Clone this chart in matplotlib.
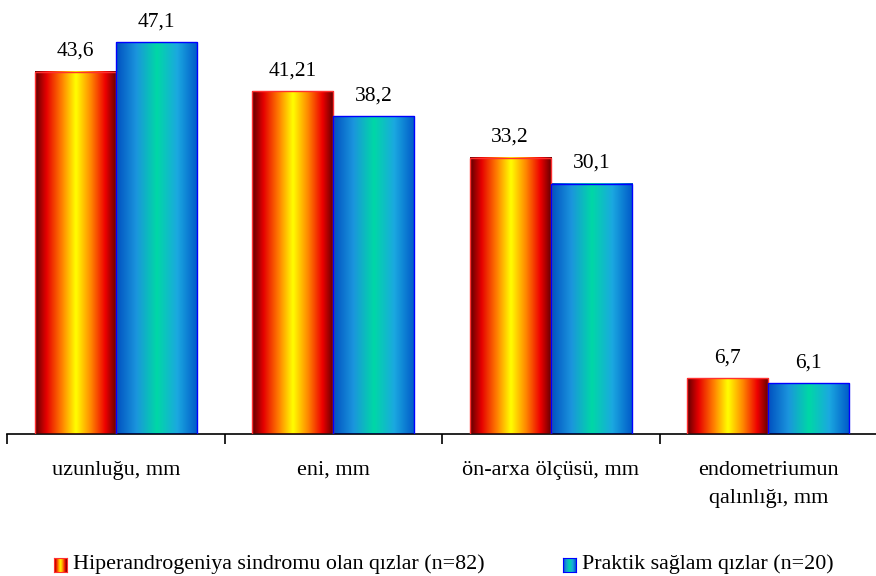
import matplotlib
matplotlib.use('Agg')

import numpy as np
import matplotlib.pyplot as plt
from matplotlib.colors import LinearSegmentedColormap

categories = ['uzunluğu, mm', 'eni, mm', 'ön-arxa ölçüsü, mm', 'endometriumun\nqalınlığı, mm']
hiper = [43.6, 41.21, 33.2, 6.7]
praktik = [47.1, 38.2, 30.1, 6.1]
hiper_labels = ['43,6', '41,21', '33,2', '6,7']
praktik_labels = ['47,1', '38,2', '30,1', '6,1']
series_names = ['Hiperandrogeniya sindromu olan qızlar (n=82)', 'Praktik sağlam qızlar (n=20)']

plt.rcParams['font.family'] = ['Liberation Serif', 'DejaVu Serif']

red_cmap = LinearSegmentedColormap.from_list('redgrad', [
    (0.0, '#5e0000'), (0.14, '#e60000'), (0.32, '#ff7a00'), (0.5, '#ffff00'),
    (0.68, '#ff8a00'), (0.86, '#ee0000'), (1.0, '#5e0000')])
blue_cmap = LinearSegmentedColormap.from_list('bluegrad', [
    (0.0, '#0050c0'), (0.25, '#1b95dd'), (0.5, '#00d8a6'), (0.75, '#1ba8e0'), (1.0, '#0058c8')])
grad = np.linspace(0, 1, 256).reshape(1, -1)

fig = plt.figure(figsize=(8.76, 5.76), dpi=100)
ax = fig.add_axes([7 / 876, 142 / 576, 870 / 876, 434 / 576])

x = np.arange(len(categories))
w = 0.373
b1 = ax.bar(x - w / 2, hiper, w, facecolor='none', edgecolor='#ff3030', linewidth=1, zorder=3)
b2 = ax.bar(x + w / 2, praktik, w, facecolor='none', edgecolor='#0000ff', linewidth=1, zorder=3)

for bars, cmap in ((b1, red_cmap), (b2, blue_cmap)):
    for r in bars:
        x0, y0 = r.get_x(), r.get_y()
        ax.imshow(grad, cmap=cmap, aspect='auto', interpolation='bicubic',
                  extent=(x0, x0 + r.get_width(), y0, y0 + r.get_height()), zorder=2)

for bars, labs in ((b1, hiper_labels), (b2, praktik_labels)):
    for r, t in zip(bars, labs):
        ax.annotate(t, (r.get_x() + r.get_width() / 2, r.get_height()),
                    xytext=(0, 8), textcoords='offset points', ha='center', va='bottom', fontsize=15.5)

ax.set_xlim(-0.5, len(categories) - 0.5)
ax.set_ylim(0, 52.2)
for s in ('top', 'right', 'left'):
    ax.spines[s].set_visible(False)
ax.spines['bottom'].set_linewidth(1.2)
ax.set_yticks([])
ax.set_xticks(np.arange(len(categories) + 1) - 0.5)
ax.set_xticklabels([])
ax.tick_params(axis='x', direction='out', length=7, width=1.2)
for i, c in enumerate(categories):
    ax.text(i, -3.2, c, ha='center', va='top', fontsize=16, linespacing=1.7)

# legend
legend_items = ((54, red_cmap, '#ff3030'), (563, blue_cmap, '#0000ff'))
for (px, cmap, ec), name in zip(legend_items, series_names):
    lax = fig.add_axes([px / 876, (576 - 572) / 576, 13 / 876, 14 / 576])
    lax.imshow(grad, cmap=cmap, aspect='auto', interpolation='bicubic')
    for s in lax.spines.values():
        s.set_color(ec)
    lax.set_xticks([])
    lax.set_yticks([])
    fig.text((px + 19) / 876, (576 - 564) / 576, name, ha='left', va='center', fontsize=15.8)

fig.savefig('out.png', dpi=100)
